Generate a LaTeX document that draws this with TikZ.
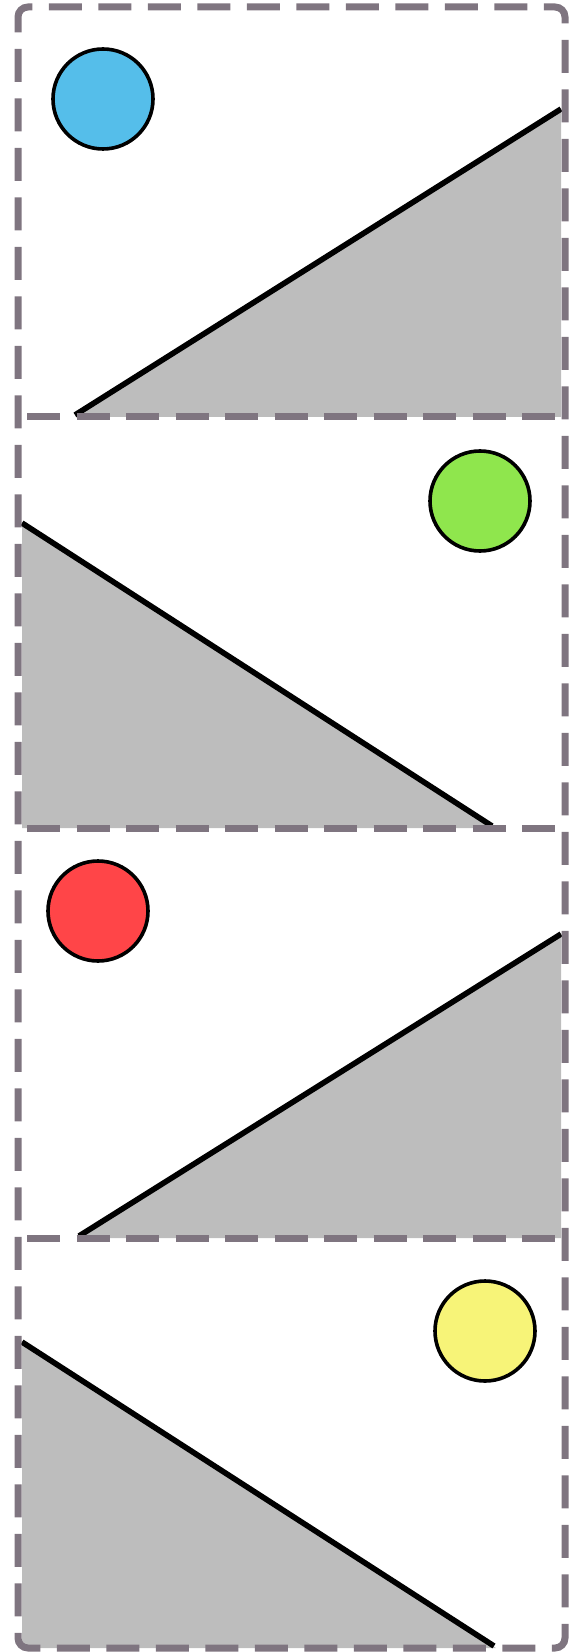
\documentclass[tikz,border=0pt]{standalone}
\begin{document}
\begin{tikzpicture}[x=0.5pt,y=-0.5pt,
  framecol/.style={draw={rgb,255:red,127;green,117;blue,128}, line width=3.5pt, dash pattern=on 16.5pt off 8.25pt},
  ground/.style={fill={rgb,255:red,189;green,189;blue,189}},
  slope/.style={draw=black, line width=2.8pt},
  sun/.style={circle, draw=black, line width=1.8pt, minimum size=50pt, inner sep=0pt}]
\useasboundingbox (0,0) rectangle (581,1652);
% panel 1
\fill[ground] (75,417) -- (561,109) -- (561,417) -- cycle;
\coordinate (p1a) at (75,415);
\coordinate (p1b) at (561,109);
\draw[slope] (p1a) -- (p1b);
\node[sun, fill={rgb,255:red,85;green,190;blue,234}] (c1) at (103,99) {};
% panel 2
\fill[ground] (22,523) -- (492,828) -- (22,828) -- cycle;
\coordinate (p2a) at (22,523);
\coordinate (p2b) at (492,826);
\draw[slope] (p2a) -- (p2b);
\node[sun, fill={rgb,255:red,143;green,230;blue,77}] (c2) at (480,501) {};
% panel 3
\fill[ground] (79,1238) -- (561,934) -- (561,1238) -- cycle;
\coordinate (p3a) at (79,1236);
\coordinate (p3b) at (561,934);
\draw[slope] (p3a) -- (p3b);
\node[sun, fill={rgb,255:red,255;green,69;blue,72}] (c3) at (98,911) {};
% panel 4
\fill[ground] (22,1342) -- (496,1648) -- (22,1648) -- cycle;
\coordinate (p4a) at (22,1342);
\coordinate (p4b) at (494,1646);
\draw[slope] (p4a) -- (p4b);
\node[sun, fill={rgb,255:red,247;green,244;blue,120}] (c4) at (485,1331) {};
% frame
\draw[framecol, rounded corners=5pt] (18,40) -- (18,7) -- (565,7) -- (565,1648) -- (18,1648) -- cycle;
\draw[framecol] (27,417) -- (560,417);
\draw[framecol] (27,828) -- (560,828);
\draw[framecol] (27,1238) -- (560,1238);
\end{tikzpicture}
\end{document}
